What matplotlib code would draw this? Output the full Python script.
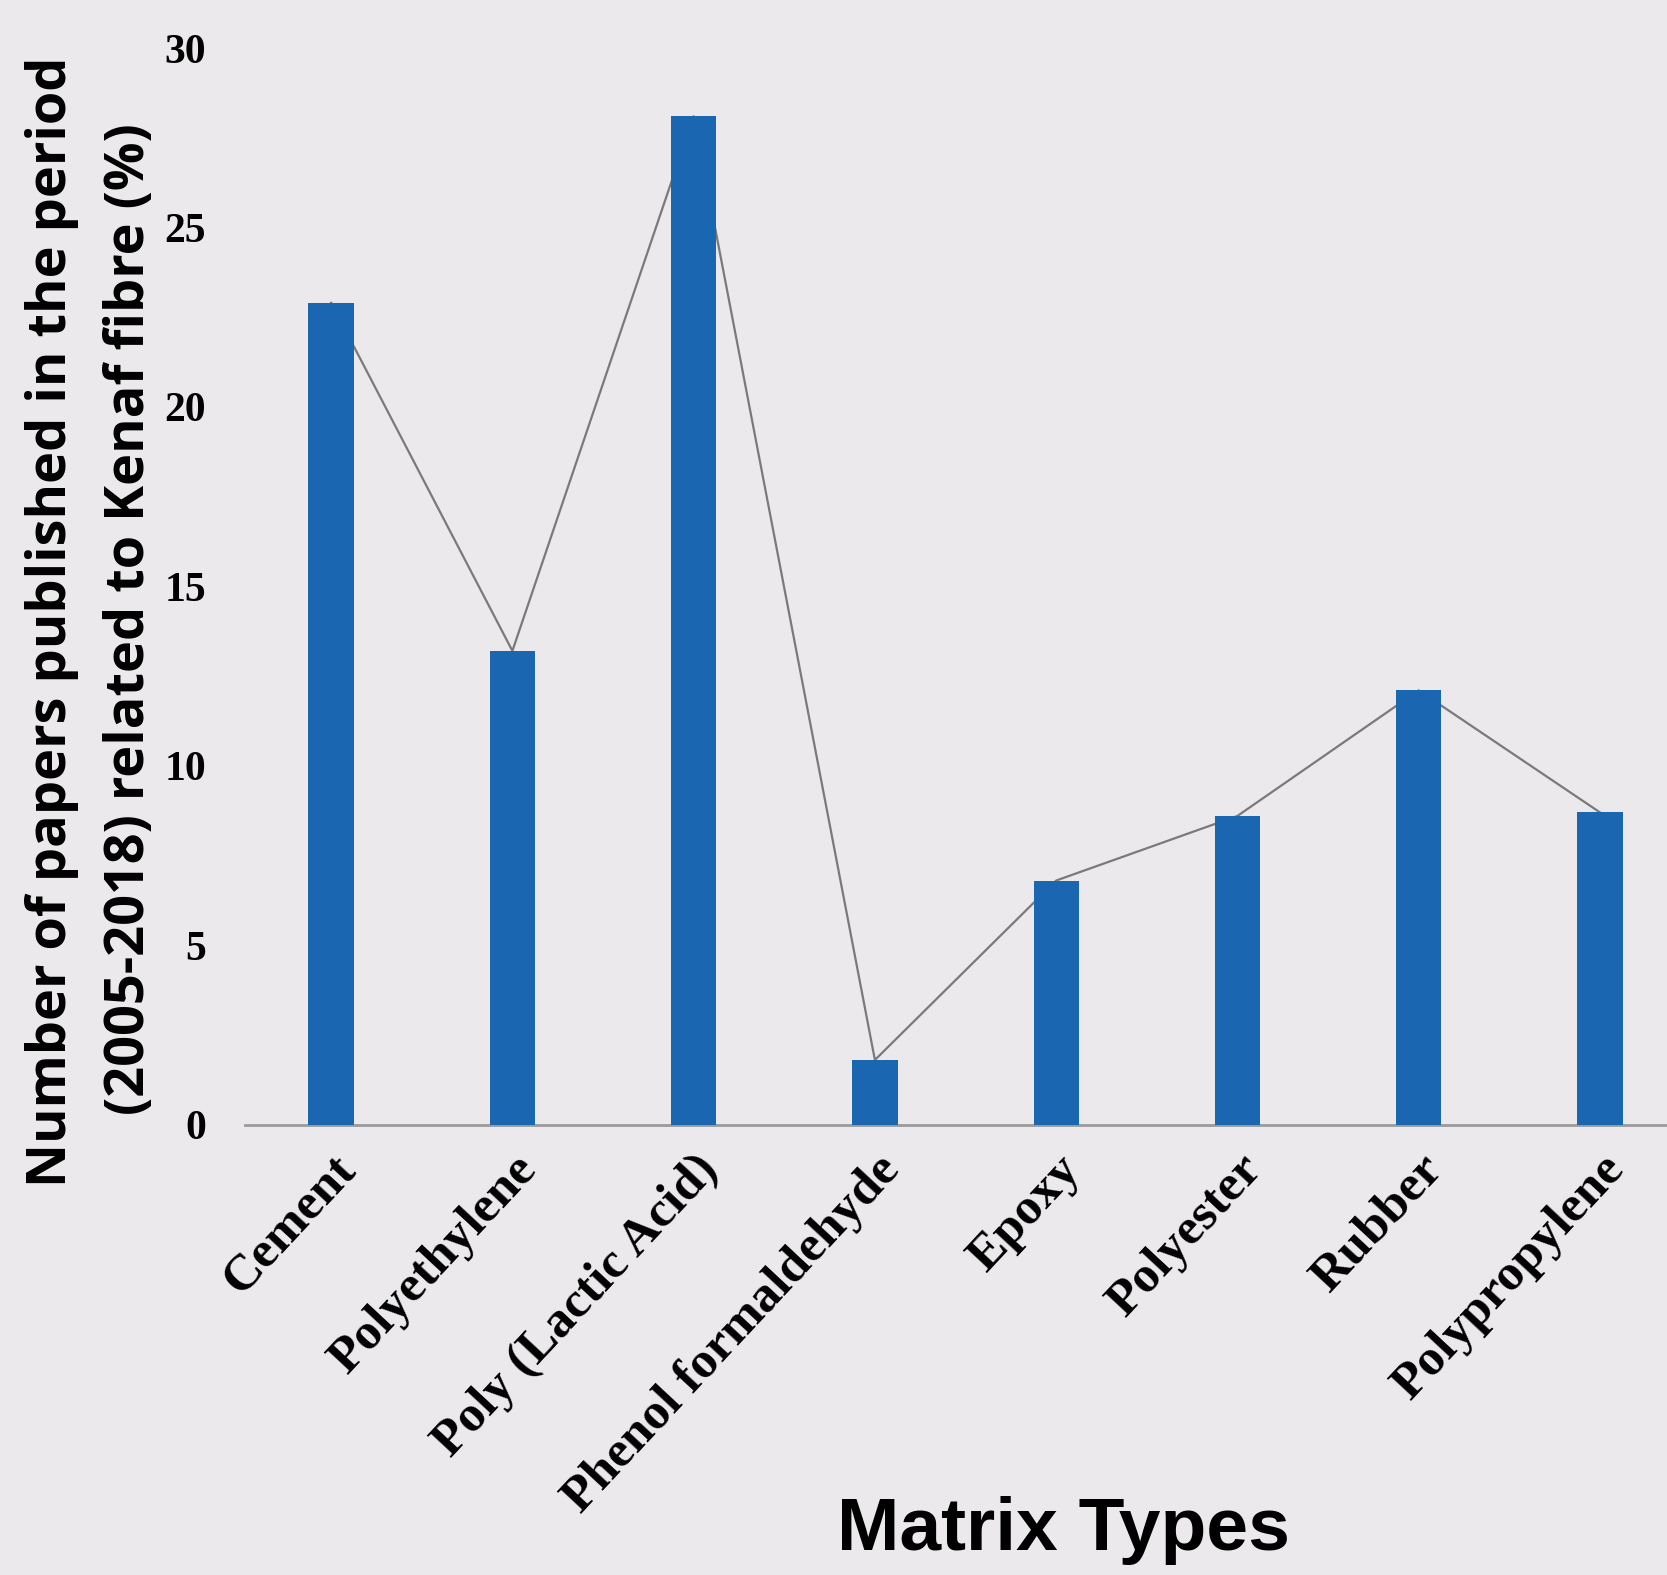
import matplotlib.pyplot as plt

categories = ["Cement", "Polyethylene", "Poly (Lactic Acid)", "Phenol formaldehyde",
              "Epoxy", "Polyester", "Rubber", "Polypropylene"]
values = [22.9, 13.2, 28.1, 1.8, 6.8, 8.6, 12.1, 8.7]
yticks = [0, 5, 10, 15, 20, 25, 30]

bg = "#ebe9ec"
fig = plt.figure(figsize=(16.67, 15.75), dpi=100, facecolor=bg)
ax = fig.add_axes([0.147, 0.286, 0.853, 0.6835], facecolor=bg)

x = list(range(len(categories)))
ax.plot(x, values, color="#7a7a7a", lw=1.6, zorder=2)
ax.bar(x, values, width=0.25, color="#1b66b1", zorder=3)

ax.set_xlim(-0.475, 7.37)
ax.set_ylim(0, 30)
ax.set_yticks(yticks)
ax.set_yticklabels([str(v) for v in yticks], fontfamily="Liberation Serif",
                   fontsize=30, fontweight="bold")
ax.tick_params(axis="y", length=0, pad=28)
ax.set_xticks(x)
ax.set_xticklabels(categories, rotation=47, ha="right", rotation_mode="anchor",
                   fontfamily="Liberation Serif", fontsize=37, fontweight="bold")
ax.tick_params(axis="x", length=0, pad=16)
for lbl in ax.get_xticklabels():
    lbl.set_x(lbl.get_position()[0])

for s in ["top", "right", "left"]:
    ax.spines[s].set_visible(False)
ax.spines["bottom"].set_color("#9a9a9a")
ax.spines["bottom"].set_linewidth(2)

fig.text(0.031, 0.605, "Number of papers published in the period",
         rotation=90, ha="center", va="center", fontfamily="Open Sans",
         fontsize=39, fontweight="bold")
fig.text(0.078, 0.607, "(2005-2018) related to Kenaf fibre (%)",
         rotation=90, ha="center", va="center", fontfamily="Open Sans",
         fontsize=39, fontweight="bold")
fig.text(0.638, 0.028, "Matrix Types", ha="center", va="center",
         fontfamily="Liberation Sans", fontsize=54, fontweight="bold")

fig.savefig("out.png", dpi=100, facecolor=bg)
